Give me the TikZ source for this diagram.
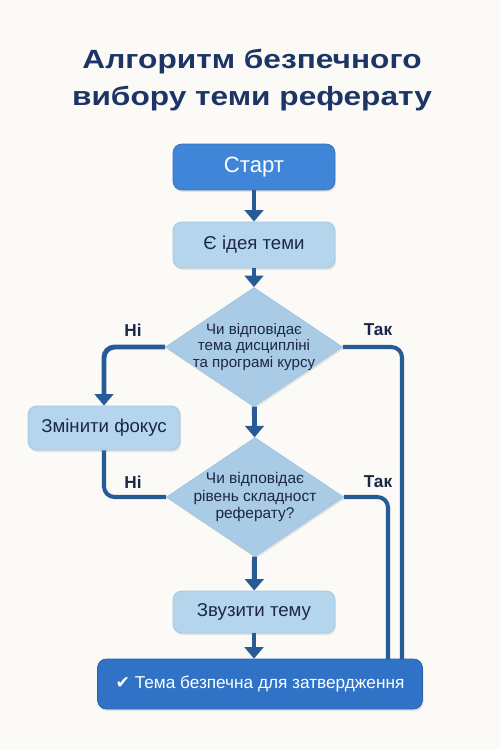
\documentclass[tikz,border=0pt]{standalone}
\usepackage{fontspec}
\setmainfont{Liberation Sans}
\newfontfamily\titlefont[FakeStretch=1.2]{Liberation Sans}
\newfontfamily\symfont{DejaVu Sans}
\usetikzlibrary{arrows.meta, shapes.geometric, shadows}
\definecolor{paper}{HTML}{FBFAF6}
\definecolor{inknavy}{HTML}{1C3566}
\definecolor{inkdark}{HTML}{1A2747}
\definecolor{flowblue}{HTML}{285A98}
\definecolor{startblue}{HTML}{3F86D8}
\definecolor{endblue}{HTML}{3072C6}
\definecolor{paleblue}{HTML}{B5D5EC}
\definecolor{paleedge}{HTML}{A3C7E4}

\begin{document}
\begin{tikzpicture}[x=0.02cm, y=-0.02cm,
  softshadow/.style={drop shadow={opacity=0.18, shadow xshift=0.6pt, shadow yshift=-1.2pt}},
  startbox/.style={fill=startblue, draw=startblue!85!black, line width=0.4pt,
    rounded corners=5pt, minimum width=3.24cm, minimum height=0.92cm,
    text=white, font=\fontsize{12.6}{15}\selectfont, softshadow},
  stepbox/.style={fill=paleblue, draw=paleedge, line width=0.5pt,
    rounded corners=5pt, minimum width=3.24cm, minimum height=0.92cm,
    text=inkdark, font=\fontsize{10.6}{13}\selectfont, softshadow},
  choice/.style={diamond, aspect=1.49, fill=paleblue!92!flowblue, draw=paleedge,
    line width=0.5pt, minimum width=3.54cm, minimum height=2.38cm, inner sep=-3pt,
    align=center, text=inkdark, font=\fontsize{8.6}{9.6}\selectfont, softshadow},
  endbox/.style={fill=endblue, draw=endblue!85!black, line width=0.4pt,
    rounded corners=5pt, minimum width=6.5cm, minimum height=1cm,
    text=white, font=\fontsize{9.8}{12}\selectfont, softshadow},
  answer/.style={text=inkdark, font=\bfseries\fontsize{9.8}{12}\selectfont},
  flow/.style={draw=flowblue, line width=2.8pt, -{Triangle[width=10.5pt, length=6.5pt]}},
  branch/.style={draw=flowblue, line width=2.3pt, rounded corners=6pt}]

  \fill[paper] (0,0) rectangle (500,750);
  \useasboundingbox (0,0) rectangle (500,750);

  % title
  \node[anchor=base, text=inknavy, font=\titlefont\bfseries\fontsize{15}{21}\selectfont]
    (title1) at (252,69) {Алгоритм безпечного};
  \node[anchor=base, text=inknavy, font=\titlefont\bfseries\fontsize{15}{21}\selectfont]
    (title2) at (252,106) {вибору теми реферату};

  % blocks
  \node[startbox] (start) at (254,167) {Старт};
  \node[stepbox] (idea) at (254,245) {Є ідея теми};
  \node[choice] (fit) at (254,347) {Чи відповідає\\тема дисципліні\\та програмі курсу};
  \node[stepbox, minimum width=3.04cm, minimum height=0.88cm] (focus) at (104,428)
    {Змінити фокус};
  \node[choice, font=\fontsize{8.8}{10.2}\selectfont] (level) at (255,497)
    {Чи відповідає\\рівень складност\\реферату?};
  \node[stepbox, minimum height=0.84cm] (narrow) at (254,612) {Звузити тему};
  \node[endbox] (done) at (260,684) {{\symfont ✔}\ Тема безпечна для затвердження};

  % answers
  \node[answer] (no1) at (133,330) {Ні};
  \node[answer] (yes1) at (378,330) {Так};
  \node[answer] (no2) at (133,482) {Ні};
  \node[answer] (yes2) at (378,482) {Так};

  % connectors
  \coordinate (fitend) at (402,659);
  \coordinate (levelend) at (388,659);
  \draw[flow] (start) -- (idea);
  \draw[flow] (idea) -- (fit);
  \draw[flow] (fit) -- (level);
  \draw[flow] (level) -- (narrow);
  \draw[flow] (narrow.south) -- (narrow.south |- done.north);
  \draw[flow, rounded corners=6pt] (fit.west) -| (focus.north);
  \draw[branch] (focus.south) |- (level.west);
  \draw[branch] (fit.east) -| (fitend);
  \draw[branch] (level.east) -| (levelend);
\end{tikzpicture}
\end{document}
